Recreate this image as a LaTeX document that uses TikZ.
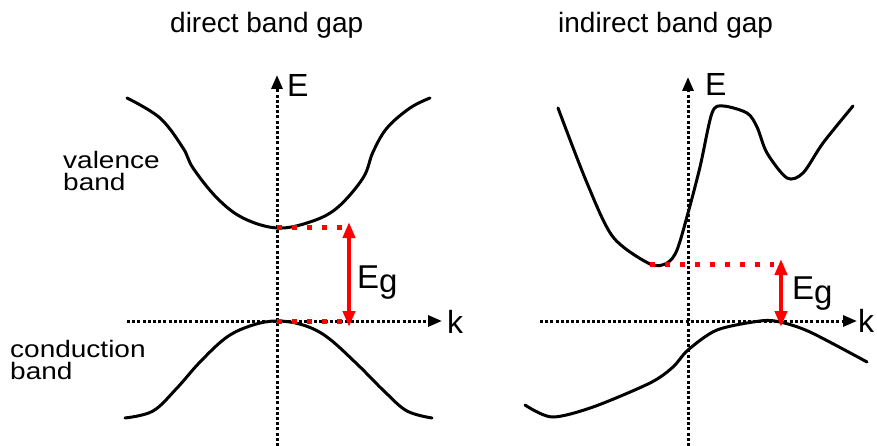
\documentclass[tikz,border=0pt]{standalone}
\usepackage{fontspec}
\setmainfont{Liberation Sans}
\usetikzlibrary{arrows.meta}
\tikzset{
  axis/.style={line width=3pt, dash pattern=on 3pt off 2.2pt, -{Triangle[length=14pt,width=11pt]}},
  band/.style={line width=3pt, line cap=round, line join=round},
  gapline/.style={red, line width=5pt, dash pattern=on 5pt off 10pt},
  gaparrow/.style={red, line width=4pt, {Triangle[length=16pt,width=12pt]}-{Triangle[length=16pt,width=12pt]}},
  titletext/.style={font=\fontsize{28}{30}\selectfont, inner sep=0pt},
  axislabel/.style={font=\fontsize{32}{34}\selectfont, inner sep=0pt},
  bandlabel/.style={font=\fontsize{28}{22}\selectfont, inner sep=0pt, align=left},
  eglabel/.style={font=\fontsize{33}{35}\selectfont, inner sep=0pt}
}
\begin{document}
\begin{tikzpicture}[x=1pt,y=-1pt]
\useasboundingbox (0,0) rectangle (877,446);
% titles
\node[titletext, anchor=base west] (t1) at (170,33) {direct band gap};
\node[titletext, anchor=base west] (t2) at (558,33) {indirect band gap};
% ---------- left panel ----------
\coordinate (l0) at (277,446);
\coordinate (l1) at (277,75);
\coordinate (h0) at (127,321);
\coordinate (h1) at (442,321);
\draw[axis] (l0) -- (l1);
\draw[axis] (h0) -- (h1);
\node[axislabel, anchor=base west] (E1) at (287,97) {E};
\node[axislabel, anchor=base west] (k1) at (447,333) {k};
% valence curve (top)
\draw[band] plot[smooth, tension=0.6] coordinates {
 (127,98) (160,118) (183,148) (193,168) (217,198) (243,218) (277,228)
 (310,222) (337,208) (363,178) (373,152) (387,128) (410,108) (430,98)};
% conduction curve (bottom)
\draw[band] plot[smooth, tension=0.6] coordinates {
 (125,418) (153,411) (177,388) (200,362) (227,337) (253,325) (277,321)
 (303,325) (327,337) (357,364) (385,392) (407,411) (432,418)};
\node[bandlabel, anchor=north west] (vb) at (63,151) {\scalebox{1}[0.85]{valence}\\\scalebox{1}[0.85]{band}};
\node[bandlabel, anchor=north west] (cb) at (10,340) {\scalebox{1}[0.85]{conduction}\\\scalebox{1}[0.85]{band}};
% gap
\coordinate (lt0) at (277,228);
\coordinate (lt1) at (343,228);
\coordinate (lb0) at (277,321);
\coordinate (lb1) at (343,321);
\draw[gapline] (lt0) -- (lt1);
\draw[gapline] (lb0) -- (lb1);
\coordinate (la0) at (349,222);
\coordinate (la1) at (349,327);
\draw[gaparrow] (la0) -- (la1);
\node[eglabel, anchor=base west] (Eg1) at (357,288) {E\raisebox{-4pt}{g}};
% ---------- right panel ----------
\coordinate (r0) at (688,446);
\coordinate (r1) at (688,77);
\coordinate (g0) at (540,321);
\coordinate (g1) at (857,321);
\draw[axis] (r0) -- (r1);
\draw[axis] (g0) -- (g1);
\node[axislabel, anchor=base west] (E2) at (705,96) {E};
\node[axislabel, anchor=base west] (k2) at (858,332) {k};
% upper curve
\draw[band] plot[smooth, tension=0.5] coordinates {
 (558,108) (587,183) (613,237) (650,264) (667,263) (677,250) (688,213)
 (700,167) (712,113) (723,106) (747,113) (757,127) (767,153) (787,178)
 (803,173) (823,143) (853,106)};
% lower curve
\draw[band] plot[smooth, tension=0.5] coordinates {
 (525,405) (552,417) (593,407) (650,383) (673,367) (688,350) (717,330)
 (760,321) (780,322) (810,332) (867,362)};
% gap
\coordinate (rt0) at (650,264);
\coordinate (rt1) at (774,264);
\draw[gapline] (rt0) -- (rt1);
\coordinate (ra0) at (781,259);
\coordinate (ra1) at (781,327);
\draw[gaparrow] (ra0) -- (ra1);
\node[eglabel, anchor=base west] (Eg2) at (792,299) {E\raisebox{-4pt}{g}};
\end{tikzpicture}
\end{document}
